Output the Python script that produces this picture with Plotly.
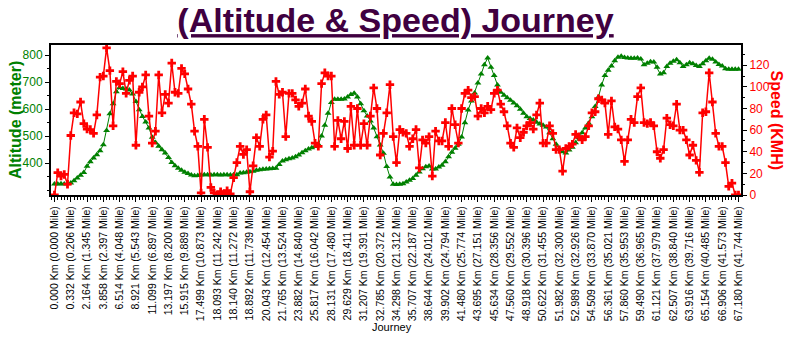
import plotly.graph_objects as go

tick_labels = [
    "0.000 Km (0.000 Mile)", "0.332 Km (0.206 Mile)", "2.164 Km (1.345 Mile)",
    "3.858 Km (2.397 Mile)", "6.514 Km (4.048 Mile)", "8.921 Km (5.543 Mile)",
    "11.099 Km (6.897 Mile)", "13.197 Km (8.200 Mile)", "15.915 Km (9.889 Mile)",
    "17.499 Km (10.873 Mile)", "18.093 Km (11.242 Mile)", "18.140 Km (11.272 Mile)",
    "18.892 Km (11.739 Mile)", "20.043 Km (12.454 Mile)", "21.765 Km (13.524 Mile)",
    "23.882 Km (14.840 Mile)", "25.817 Km (16.042 Mile)", "28.131 Km (17.480 Mile)",
    "29.629 Km (18.411 Mile)", "31.207 Km (19.391 Mile)", "32.785 Km (20.372 Mile)",
    "34.298 Km (21.312 Mile)", "35.707 Km (22.187 Mile)", "38.644 Km (24.012 Mile)",
    "39.902 Km (24.794 Mile)", "41.480 Km (25.774 Mile)", "43.695 Km (27.151 Mile)",
    "45.634 Km (28.356 Mile)", "47.560 Km (29.552 Mile)", "48.918 Km (30.396 Mile)",
    "50.622 Km (31.455 Mile)", "51.982 Km (32.300 Mile)", "52.989 Km (32.926 Mile)",
    "54.509 Km (33.870 Mile)", "56.361 Km (35.021 Mile)", "57.860 Km (35.953 Mile)",
    "59.490 Km (36.965 Mile)", "61.121 Km (37.979 Mile)", "62.507 Km (38.840 Mile)",
    "63.916 Km (39.716 Mile)", "65.154 Km (40.485 Mile)", "66.906 Km (41.573 Mile)",
    "67.180 Km (41.744 Mile)",
]

altitude_ticks = [400, 500, 600, 700, 800]
speed_ticks = [0, 20, 40, 60, 80, 100, 120]

altitude = [
    322, 322, 323, 322, 323, 326, 334, 345, 355, 365,
    388, 405, 419, 431, 446, 468, 521, 583, 620, 665,
    680, 677, 675, 671, 656, 628, 598, 573, 552, 530,
    496, 476, 462, 449, 437, 421, 402, 390, 381, 373,
    366, 361, 356, 353, 354, 356, 357, 357, 356, 357,
    357, 356, 357, 357, 356, 357, 357, 363, 364, 366,
    368, 370, 373, 375, 377, 378, 379, 380, 381, 395,
    408, 412, 416, 419, 423, 430, 438, 446, 452, 457,
    461, 470, 500, 540, 585, 625, 637, 637, 637, 638,
    645, 654, 659, 645, 620, 594, 575, 556, 530, 498,
    467, 436, 387, 348, 321, 320, 321, 323, 330, 336,
    343, 355, 367, 379, 386, 389, 378, 378, 385, 392,
    405, 423, 440, 455, 470, 497, 550, 597, 630, 660,
    697, 730, 765, 790, 755, 725, 690, 663, 652, 642,
    633, 623, 613, 600, 585, 572, 565, 560, 551, 545,
    540, 534, 512, 490, 470, 452, 442, 437, 448, 459,
    475, 494, 512, 530, 548, 572, 610, 645, 690, 725,
    744, 760, 780, 793, 796, 792, 790, 789, 789, 790,
    786, 765, 770, 776, 775, 755, 730, 735, 758, 770,
    778, 783, 772, 758, 765, 772, 768, 762, 758, 768,
    780, 789, 785, 775, 766, 760, 750, 748, 748, 748,
    748,
]

speed = [
    0, 20.6, 17.5, 19, 10, 55, 76, 75, 86, 66,
    61, 60.5, 57, 74, 109, 110, 136, 115, 64, 105,
    103, 114, 94, 106, 110, 46, 95, 100, 111, 73,
    48, 59, 111, 76, 93, 85, 122, 95, 94, 117,
    112, 98, 84, 59, 45, 2, 70, 44, 7, 2,
    0, 3, 1, 4, 1, 16, 30, 45, 37.5, 42,
    3, 27, 53, 45, 70, 74, 35, 40.5, 105, 93,
    95, 54, 94, 94, 88, 82, 85, 98, 73, 68,
    48, 45, 103, 113, 110, 110, 45, 69, 52, 68,
    43, 82, 46, 80, 46, 66, 46, 73, 99, 80,
    37, 57, 76, 102, 54, 30, 60.5, 58, 57, 45,
    52, 60.5, 25, 51, 48, 54, 17.5, 59, 50, 50,
    67, 45, 80, 65, 48, 80, 94, 97, 90, 91,
    73, 80, 76, 82, 79, 94, 97, 84, 77, 64,
    48, 44, 62, 53, 58, 64, 67, 61, 74, 85,
    48, 48, 64, 57, 42, 42, 22, 43, 45, 47,
    56, 54, 51, 54, 64, 76, 77, 89, 88, 85,
    56, 87, 63, 61, 51, 31, 51, 70, 67, 91,
    99, 67, 66, 67, 64, 40, 34, 42, 71, 65,
    64, 84, 60, 60, 51, 37, 46, 32, 21, 76,
    77, 113, 86, 57, 45, 45, 30, 8, 11, 0,
    0,
]

assert len(altitude) == len(speed) == (len(tick_labels) - 1) * 5 + 1

idx = list(range(len(altitude)))
label_step = 5
tick_pos = idx[::label_step]

FONT = "Arial, Liberation Sans, sans-serif"
GREEN = "#008000"
RED = "#FF0000"

fig = go.Figure()
fig.add_trace(go.Scatter(
    x=idx, y=altitude, mode="lines+markers", name="Altitude",
    line=dict(color=GREEN, width=1),
    marker=dict(symbol="triangle-up", size=6, color=GREEN),
    yaxis="y",
))
fig.add_trace(go.Scatter(
    x=idx, y=speed, mode="lines+markers", name="Speed",
    line=dict(color=RED, width=1.5),
    marker=dict(symbol="cross", size=7, color=RED),
    yaxis="y2",
))

fig.update_layout(
    width=791, height=337,
    margin=dict(l=51, r=50, t=45, b=142, pad=0),
    paper_bgcolor="white", plot_bgcolor="white",
    showlegend=False,
    font=dict(family=FONT, size=12, color="black"),
    title=dict(
        text="<b><u>(Altitude &amp; Speed) Journey</u></b>",
        font=dict(family=FONT, size=34, color="#400040"),
        x=0.5, xanchor="center", y=0.94, yanchor="middle",
    ),
    xaxis=dict(
        range=[-1.07, len(idx) - 1 + 0.77],
        tickmode="array", tickvals=tick_pos, ticktext=tick_labels,
        tickangle=-90, tickfont=dict(family=FONT, size=10.5, color="black"),
        ticks="outside", ticklen=5, tickwidth=1, tickcolor="black",
        minor=dict(tickmode="linear", tick0=0, dtick=1, ticks="outside",
                   ticklen=3, tickwidth=1, tickcolor="black"),
        showline=True, linecolor="black", linewidth=2, mirror=True,
        showgrid=False, zeroline=False,
    ),
    yaxis=dict(
        range=[281.5, 838],
        tickmode="array", tickvals=altitude_ticks,
        tickfont=dict(family=FONT, size=12, color=GREEN),
        ticks="outside", ticklen=4, tickcolor="black",
        minor=dict(tickmode="linear", tick0=300, dtick=50, ticks="outside",
                   ticklen=2, tickcolor="black"),
        showline=True, linecolor="black", linewidth=2,
        showgrid=False, zeroline=False,
    ),
    yaxis2=dict(
        range=[0, 138.7], overlaying="y", side="right",
        tickmode="array", tickvals=speed_ticks,
        tickfont=dict(family=FONT, size=12, color=RED),
        ticks="outside", ticklen=4, tickcolor="black",
        minor=dict(tickmode="linear", tick0=0, dtick=10, ticks="outside",
                   ticklen=2, tickcolor="black"),
        showline=True, linecolor="black", linewidth=2,
        showgrid=False, zeroline=False,
    ),
    annotations=[
        dict(text="<b>Altitude (meter)</b>", textangle=-90,
             xref="paper", yref="paper", x=(15 - 51) / 690, y=0.5,
             xanchor="center", yanchor="middle", showarrow=False,
             font=dict(family=FONT, size=16, color=GREEN)),
        dict(text="<b>Speed (KMH)</b>", textangle=90,
             xref="paper", yref="paper", x=(776.5 - 51) / 690, y=0.5,
             xanchor="center", yanchor="middle", showarrow=False,
             font=dict(family=FONT, size=16, color=RED)),
        dict(text="Journey",
             xref="paper", yref="paper", x=(392 - 51) / 690, y=(195 - 327) / 150,
             xanchor="center", yanchor="middle", showarrow=False,
             font=dict(family=FONT, size=11, color="black")),
    ],
)

fig.write_html("out.html")
